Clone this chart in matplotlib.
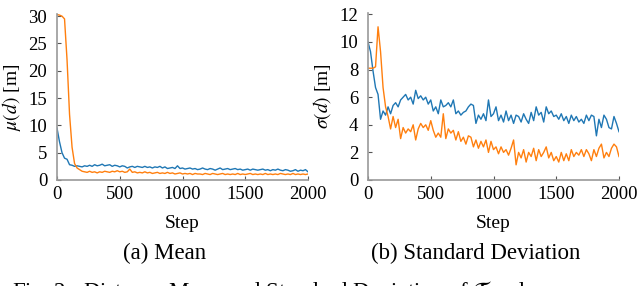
import numpy as np
import matplotlib
matplotlib.use("Agg")
import matplotlib.pyplot as plt

plt.rcParams['font.family'] = ['Liberation Serif', 'DejaVu Serif']
plt.rcParams['mathtext.fontset'] = 'stix'

# steps, every 20
steps = np.arange(0, 2001, 20)

# mean distance
mean_blue = [9.5, 7.0, 5.0, 4.0, 3.8, 2.8, 2.7, 2.5, 2.6, 2.5,
             2.4, 2.6, 2.5, 2.7, 2.5, 2.8, 2.6, 2.7, 2.9, 2.6,
             2.7, 2.8, 2.5, 2.7, 2.6, 2.4, 2.6, 2.5, 2.2, 2.4,
             2.5, 2.3, 2.5, 2.4, 2.3, 2.5, 2.3, 2.4, 2.2, 2.4,
             2.3, 2.5, 2.2, 2.4, 2.1, 2.2, 2.3, 2.1, 2.6, 2.1,
             2.2, 2.0, 2.1, 2.2, 2.0, 2.1, 1.9, 2.0, 2.2, 2.0,
             1.9, 2.1, 2.0, 1.8, 2.0, 2.2, 1.9, 2.0, 2.1, 1.9,
             2.0, 2.1, 1.9, 2.0, 1.8, 1.9, 2.0, 1.8, 2.0, 1.9,
             1.8, 1.9, 2.0, 1.8, 1.9, 1.7, 1.9, 1.8, 2.0, 1.8,
             1.7, 1.9, 1.8, 1.6, 1.7, 1.9, 1.6, 1.8, 1.7, 1.9, 1.5]
mean_orange = [30.3, 30.2, 30.0, 29.5, 22.0, 12.0, 6.0, 3.0, 2.2, 1.9,
               1.6, 1.5, 1.4, 1.6, 1.4, 1.5, 1.3, 1.5, 1.4, 1.6,
               1.5, 1.4, 1.6, 1.5, 1.7, 1.5, 1.6, 1.4, 1.5, 2.0,
               1.4, 1.5, 1.3, 1.4, 1.3, 1.5, 1.3, 1.4, 1.2, 1.3,
               1.4, 1.2, 1.3, 1.2, 1.4, 1.2, 1.3, 1.1, 1.2, 1.3,
               1.1, 1.2, 1.1, 1.2, 1.0, 1.2, 1.1, 1.1, 1.0, 1.2,
               1.1, 1.0, 1.2, 1.1, 1.0, 1.1, 1.2, 1.0, 1.1, 1.0,
               1.1, 1.0, 1.2, 1.0, 1.1, 1.0, 1.1, 1.2, 1.0, 1.1,
               1.0, 1.1, 1.0, 1.2, 1.0, 1.1, 1.0, 1.1, 1.0, 1.2,
               1.1, 1.0, 1.1, 1.0, 1.2, 1.0, 1.1, 1.0, 1.1, 1.0, 1.1]

# standard deviation
std_blue = [10.0, 9.3, 7.9, 6.7, 6.2, 4.4, 5.0, 4.7, 5.3, 4.8,
            5.4, 5.6, 5.3, 5.8, 6.0, 6.2, 5.8, 6.0, 5.5, 6.5,
            5.9, 6.1, 5.8, 6.0, 5.5, 5.8, 5.0, 5.3, 4.8, 5.8,
            5.3, 5.4, 5.6, 5.3, 5.8, 4.8, 5.0, 4.7, 4.9, 5.0,
            5.3, 5.5, 5.4, 4.1, 4.7, 4.4, 4.8, 4.3, 5.8, 4.6,
            4.8, 5.3, 4.3, 4.7, 4.2, 5.0, 4.3, 4.7, 4.1, 4.7,
            4.6, 4.2, 4.8, 4.4, 4.1, 4.9, 4.3, 5.3, 4.7, 4.9,
            4.2, 5.3, 4.8, 5.0, 4.6, 4.7, 4.4, 4.8, 4.3, 4.6,
            4.1, 4.7, 4.3, 4.6, 4.2, 4.4, 4.1, 4.7, 4.3, 4.7,
            4.6, 3.2, 4.4, 3.8, 4.7, 4.4, 3.8, 3.7, 4.6, 4.1, 3.5]
std_orange = [8.1, 8.1, 8.1, 8.2, 11.1, 9.3, 6.7, 5.3, 4.6, 3.7,
              4.6, 3.8, 4.4, 3.0, 3.8, 3.4, 3.7, 3.5, 4.0, 2.9,
              3.7, 4.1, 3.8, 4.0, 3.6, 4.3, 3.6, 3.1, 3.4, 3.1,
              4.8, 3.0, 3.7, 3.4, 3.6, 2.9, 3.5, 2.8, 3.1, 2.6,
              3.2, 3.1, 2.4, 2.9, 2.3, 2.8, 2.4, 2.9, 2.0, 2.8,
              2.2, 2.4, 1.9, 2.4, 2.0, 2.2, 1.8, 2.3, 2.9, 1.1,
              2.0, 1.6, 2.2, 1.3, 2.0, 1.7, 2.3, 1.4, 2.2, 1.7,
              2.0, 2.4, 1.6, 2.0, 1.4, 1.7, 1.3, 2.0, 1.4, 1.9,
              1.4, 2.2, 1.7, 2.0, 1.8, 2.2, 1.7, 2.2, 1.9, 1.4,
              2.2, 1.7, 2.3, 2.6, 1.6, 2.0, 1.7, 2.3, 2.6, 2.4, 1.7]

blue = '#1f77b4'
orange = '#ff7f0e'

fig = plt.figure(figsize=(6.4, 2.86), dpi=100)
ax1 = fig.add_axes([57/640, 1 - 180/286, 251/640, 166/286])
ax2 = fig.add_axes([368/640, 1 - 180/286, 251/640, 167/286])

ax1.plot(steps, mean_blue, color=blue, lw=1.0)
ax1.plot(steps, mean_orange, color=orange, lw=1.0)
ax1.set_xlim(0, 2000)
ax1.set_ylim(0, 30.4)
ax1.set_yticks(np.arange(0, 31, 5))
ax1.set_ylabel(r'$\mu(d)$ [m]', fontsize=14, labelpad=4)

ax2.plot(steps, std_blue, color=blue, lw=1.0)
ax2.plot(steps, std_orange, color=orange, lw=1.0)
ax2.set_xlim(0, 2000)
ax2.set_ylim(0, 12.1)
ax2.set_yticks(np.arange(0, 13, 2))
ax2.set_ylabel(r'$\sigma(d)$ [m]', fontsize=14, labelpad=5)

for ax in (ax1, ax2):
    ax.set_xticks([0, 500, 1000, 1500, 2000])
    ax.set_xlabel('Step', fontsize=14, labelpad=9)
    for s in ('top', 'right'):
        ax.spines[s].set_visible(False)
    for s in ('left', 'bottom'):
        ax.spines[s].set_color('#999999')
        ax.spines[s].set_linewidth(1.2)
    ax.tick_params(direction='in', length=3, color='#555555', labelsize=13.5)
    ax.tick_params(axis='y', pad=7)
    ax.tick_params(axis='x', pad=4)

fig.text(165/640, 1 - 253/286, '(a) Mean', ha='center', va='center', fontsize=16.5)
fig.text(476/640, 1 - 253/286, '(b) Standard Deviation', ha='center', va='center', fontsize=16.5)
fig.text(12/640, 1 - 292/286, r'Fig. 2:  Distance Mean and Standard Deviation of $\mathcal{T}$ and',
         ha='left', va='center', fontsize=16.5)

fig.savefig('out.png', dpi=100)
